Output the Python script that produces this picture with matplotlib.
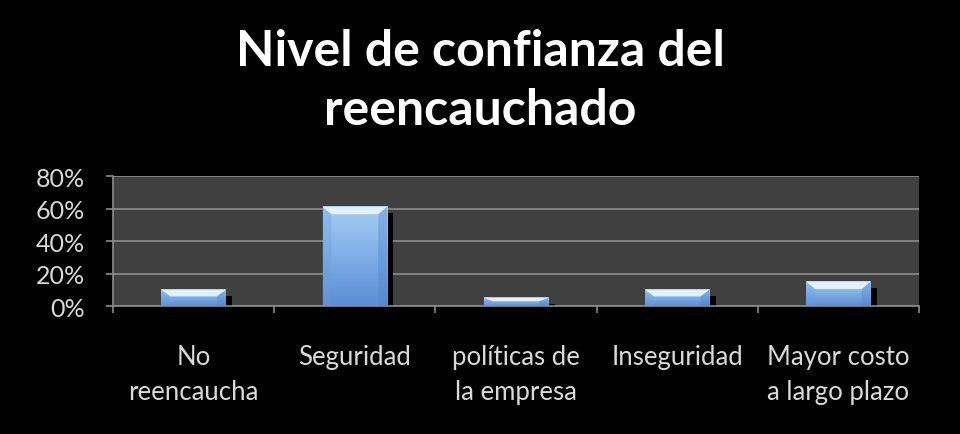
import numpy as np
import matplotlib
matplotlib.use("Agg")
import matplotlib.pyplot as plt
from matplotlib.ticker import PercentFormatter, MultipleLocator
from matplotlib.patches import Polygon

plt.rcParams['font.family'] = ['Lato', 'DejaVu Sans']

categorias = ['No\nreencaucha', 'Seguridad', 'políticas de\nla empresa',
              'Inseguridad', 'Mayor costo\na largo plazo']
valores = [0.10, 0.61, 0.05, 0.10, 0.15]

fig = plt.figure(figsize=(9.6, 4.35), dpi=100, facecolor='black')
ax = fig.add_axes([0.1177, 0.294, 0.8396, 0.299])
ax.set_facecolor('#404040')

x = np.arange(len(categorias))
ancho = 0.4

# gradiente azul vertical
grad = np.linspace(0, 1, 100).reshape(-1, 1)
cmap = matplotlib.colors.LinearSegmentedColormap.from_list(
    'azul', ['#5a8fd6', '#a6cdf6'])

for xi, v in zip(x, valores):
    # sombra
    ax.bar(xi + 0.04, v - 0.04, width=ancho, color='black', zorder=2)
    # barra con gradiente
    ax.imshow(grad, extent=[xi - ancho / 2, xi + ancho / 2, 0, v],
              origin='lower', aspect='auto', cmap=cmap, zorder=3)
    # bisel superior
    b = min(0.045, v * 0.4)
    bx = 0.055
    ax.add_patch(Polygon([[xi - ancho / 2, v], [xi + ancho / 2, v],
                          [xi + ancho / 2 - bx, v - b], [xi - ancho / 2 + bx, v - b]],
                         closed=True, color='#e2f1ff', zorder=4, lw=0))
    ax.add_patch(Polygon([[xi - ancho / 2, v], [xi - ancho / 2 + bx, v - b],
                          [xi - ancho / 2 + bx, 0], [xi - ancho / 2, 0]],
                         closed=True, color='#6a9ede', alpha=0.35, zorder=4, lw=0))
    ax.add_patch(Polygon([[xi + ancho / 2, v], [xi + ancho / 2 - bx, v - b],
                          [xi + ancho / 2 - bx, 0], [xi + ancho / 2, 0]],
                         closed=True, color='#4a7fc8', alpha=0.35, zorder=4, lw=0))

ax.set_xlim(-0.5, len(categorias) - 0.5)
ax.set_ylim(0, 0.8)
ax.yaxis.set_major_locator(MultipleLocator(0.2))
ax.yaxis.set_major_formatter(PercentFormatter(1.0, decimals=0))
ax.grid(axis='y', color='#8c8c8c', lw=1.2, zorder=1)

ax.set_xticks(x)
ax.set_xticklabels(categorias, color='#d9d9d9', fontsize=18.5, linespacing=1.5)
ax.set_xticks(np.arange(len(categorias) + 1) - 0.5, minor=True)
ax.tick_params(axis='x', which='major', length=0, pad=27)
ax.tick_params(axis='x', which='minor', length=5, color='#8c8c8c', width=1.2)
ax.tick_params(axis='y', colors='#8c8c8c', labelcolor='#d9d9d9',
               labelsize=18, length=5, width=1.2, pad=15)

for s in ['top', 'right']:
    ax.spines[s].set_visible(False)
for s in ['left', 'bottom']:
    ax.spines[s].set_color('#8c8c8c')
    ax.spines[s].set_linewidth(1.2)

fig.text(0.5, 0.814, 'Nivel de confianza del\nreencauchado', ha='center', va='center',
         color='white', fontsize=36, fontweight='bold', linespacing=1.4)

fig.savefig('out.png', dpi=100, facecolor='black')
